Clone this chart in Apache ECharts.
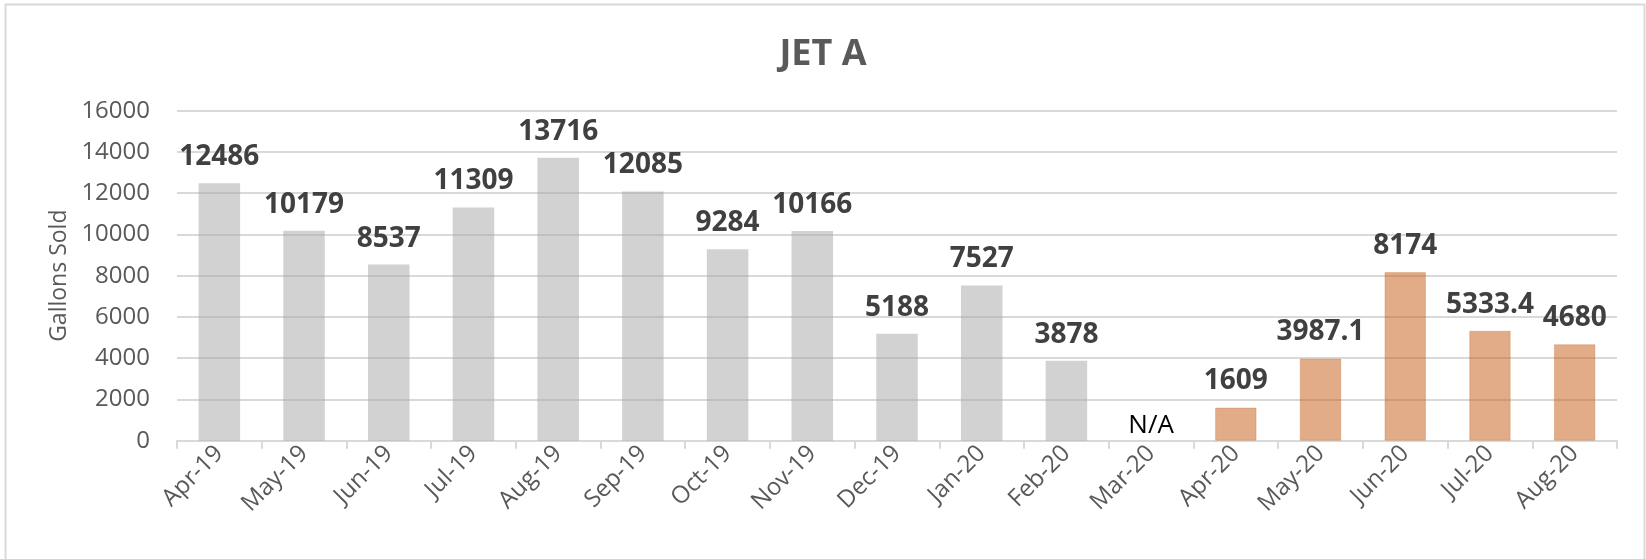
<!DOCTYPE html>
<html>
<head>
<meta charset="utf-8">
<script src="https://cdn.jsdelivr.net/npm/echarts@6/dist/echarts.min.js"></script>
<style>
html,body{margin:0;padding:0;background:#fff;}
#chart{width:1646px;height:559px;}
</style>
</head>
<body>
<div id="chart"></div>
<script>
var categories = ['Apr-19','May-19','Jun-19','Jul-19','Aug-19','Sep-19','Oct-19','Nov-19','Dec-19','Jan-20','Feb-20','Mar-20','Apr-20','May-20','Jun-20','Jul-20','Aug-20'];
var values = [12486, 10179, 8537, 11309, 13716, 12085, 9284, 10166, 5188, 7527, 3878, null, 1609, 3987.1, 8174, 5333.4, 4680];
// index from which bars are drawn orange
var orangeFrom = 12;
var yTicks = [0, 2000, 4000, 6000, 8000, 10000, 12000, 14000, 16000];

var FONT = '"Open Sans", "Noto Sans", sans-serif';
var grayStyle = { color: 'rgba(165,165,165,0.5)' };
var orangeStyle = { color: 'rgba(197,90,17,0.5)', borderColor: 'rgba(197,90,17,0.25)', borderWidth: 1 };

var data = values.map(function (v, i) {
  if (v === null) {
    return {
      value: 0,
      itemStyle: { color: 'rgba(0,0,0,0)' },
      label: { formatter: 'N/A', fontWeight: 'normal', fontSize: 26, color: '#000000', distance: 2 }
    };
  }
  return { value: v, itemStyle: i >= orangeFrom ? orangeStyle : grayStyle };
});

var chart = echarts.init(document.getElementById('chart'), null, { renderer: 'canvas' });
chart.setOption({
  animation: false,
  backgroundColor: '#ffffff',
  title: {
    text: 'JET A',
    left: 'center',
    top: 32,
    textStyle: { fontFamily: FONT, fontSize: 36, fontWeight: 'bold', color: '#595959' }
  },
  graphic: [{
    type: 'rect',
    shape: { x: 5.5, y: 4.5, width: 1639, height: 620 },
    style: { fill: 'none', stroke: '#d9d9d9', lineWidth: 2 },
    silent: true
  }],
  grid: { left: 177, right: 29, top: 110.7, bottom: 118.3, containLabel: false },
  xAxis: {
    type: 'category',
    data: categories,
    axisLine: { lineStyle: { color: '#d9d9d9', width: 2 } },
    axisTick: { show: true, length: 8, lineStyle: { color: '#d9d9d9', width: 2 } },
    axisLabel: {
      rotate: 45,
      interval: 0,
      margin: 9,
      fontFamily: FONT,
      fontSize: 24,
      color: '#595959'
    }
  },
  yAxis: {
    type: 'value',
    min: yTicks[0],
    max: yTicks[yTicks.length - 1],
    interval: yTicks[1] - yTicks[0],
    name: 'Gallons Sold',
    nameLocation: 'middle',
    nameGap: 99,
    nameTextStyle: { fontFamily: FONT, fontSize: 23, color: '#595959' },
    axisLine: { show: false },
    axisTick: { show: false },
    axisLabel: {
      margin: 27, fontFamily: FONT, fontSize: 24, color: '#595959',
      formatter: function (v) { return String(v); }
    },
    splitLine: { lineStyle: { color: '#d9d9d9', width: 2 } }
  },
  series: [{
    type: 'bar',
    data: data,
    barWidth: '49%',
    label: {
      show: true,
      position: 'top',
      distance: 12,
      fontFamily: FONT,
      fontSize: 28,
      fontWeight: 'bold',
      color: '#404040'
    }
  }]
});
</script>
</body>
</html>
